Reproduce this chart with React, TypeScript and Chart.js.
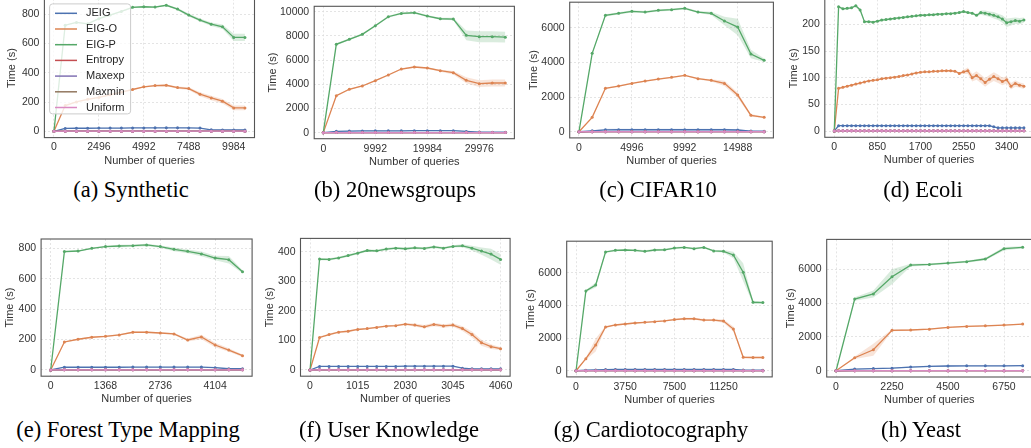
import React, { useEffect, useRef } from "react";
import { Chart, registerables } from "chart.js";
Chart.register(...registerables);

const SERIES_NAMES = ["JEIG", "EIG-O", "EIG-P", "Entropy", "Maxexp", "Maxmin", "Uniform"];
const SERIES_COLORS = ["#4C72B0", "#DD8452", "#55A868", "#C44E52", "#8172B3", "#937860", "#DA8BC3"];
const X_TITLE = "Number of queries";
const Y_TITLE = "Time (s)";
const CAPTIONS = [
  "(a) Synthetic", "(b) 20newsgroups", "(c) CIFAR10", "(d) Ecoli",
  "(e) Forest Type Mapping", "(f) User Knowledge", "(g) Cardiotocography", "(h) Yeast",
];

// (a) Synthetic
const aX = [0, 624, 1248, 1872, 2496, 3120, 3744, 4368, 4992, 5616, 6240, 6864, 7488, 8112, 8736, 9360, 9984, 10608];
const aJEIG = [0, 20, 21, 21, 22, 22, 22, 23, 23, 24, 24, 24, 23, 22, 10, 9, 9, 9];
const aJEIGsd = [0, 2, 2, 2, 2, 2, 2, 2, 2, 2, 2, 2, 2, 3, 3, 3, 3, 3];
const aEIGO = [0, 176, 201, 219, 232, 250, 268, 286, 304, 313, 315, 299, 292, 254, 228, 206, 160, 160];
const aEIGOsd = [0, 5, 5, 5, 5, 5, 5, 5, 5, 6, 6, 8, 10, 14, 15, 15, 16, 16];
const aEIGP = [0, 726, 745, 735, 770, 795, 820, 848, 852, 850, 862, 836, 795, 761, 733, 715, 642, 642];
const aEIGPsd = [0, 5, 5, 5, 5, 5, 5, 5, 5, 5, 5, 8, 10, 10, 12, 15, 25, 25];
const aLow = [0, 1, 1, 1, 1, 1, 1, 1, 1, 1, 1, 1, 1, 1, 1, 1, 1, 1];

// (b) 20newsgroups
const bX = [0, 2498, 4996, 7494, 9992, 12490, 14988, 17486, 19984, 22482, 24980, 27478, 29976, 32474, 34972];
const bJEIG = [0, 110, 130, 140, 150, 150, 150, 160, 160, 160, 160, 100, 50, 40, 40];
const bJEIGsd = [0, 30, 40, 50, 50, 50, 50, 50, 50, 50, 50, 40, 20, 20, 20];
const bEIGO = [0, 3058, 3587, 3860, 4298, 4769, 5264, 5430, 5347, 5124, 4959, 4331, 4050, 4107, 4107];
const bEIGOsd = [0, 60, 60, 60, 60, 60, 60, 60, 60, 80, 150, 250, 280, 280, 280];
const bEIGP = [0, 7306, 7719, 8132, 8843, 9587, 9862, 9917, 9645, 9421, 9394, 8050, 7934, 7934, 7900];
const bEIGPsd = [0, 80, 80, 80, 80, 80, 80, 80, 80, 80, 100, 400, 450, 450, 450];
const bLow = [0, 5, 5, 5, 5, 5, 5, 5, 5, 5, 5, 5, 5, 5, 5];

// (c) CIFAR10
const cX = [0, 1249, 2498, 3747, 4996, 6245, 7494, 8743, 9992, 11241, 12490, 13739, 14988, 16237, 17486];
const cJEIG = [0, 50, 110, 115, 115, 115, 115, 115, 115, 115, 115, 115, 100, 40, 30];
const cJEIGsd = [0, 30, 60, 60, 60, 60, 60, 60, 60, 60, 60, 60, 50, 20, 10];
const cEIGO = [0, 831, 2504, 2637, 2790, 2925, 3041, 3138, 3254, 3058, 2965, 2790, 2117, 946, 831];
const cEIGOsd = [0, 40, 40, 40, 40, 40, 40, 40, 40, 40, 60, 150, 150, 80, 40];
const cEIGP = [0, 4523, 6715, 6830, 6945, 6907, 7003, 7041, 7118, 6907, 6830, 6388, 6041, 4484, 4119];
const cEIGPsd = [0, 60, 60, 60, 60, 60, 60, 60, 60, 60, 100, 250, 480, 250, 100];
const cLow = [0, 5, 5, 5, 5, 5, 5, 5, 5, 5, 5, 5, 5, 5, 5];

// (d) Ecoli
const dX = [0, 85, 170, 255, 340, 425, 510, 595, 680, 765, 850, 935, 1020, 1105, 1190, 1275, 1360, 1445, 1530, 1615, 1700, 1785, 1870, 1955, 2040, 2125, 2210, 2295, 2380, 2465, 2550, 2635, 2720, 2805, 2890, 2975, 3060, 3145, 3230, 3315, 3400, 3485, 3570, 3655, 3740];
const dJEIG = [0, 10, 10, 10, 10, 10, 10, 10, 10, 10, 10, 10, 10, 10, 10, 10, 10, 10, 10, 10, 10, 10, 10, 10, 10, 10, 10, 10, 10, 10, 10, 10, 10, 10, 10, 10, 10, 8, 6, 6, 6, 6, 6, 6, 6];
const dJEIGsd = [0, 0.5, 0.5, 0.5, 0.5, 0.5, 0.5, 0.5, 0.5, 0.5, 0.5, 0.5, 0.5, 0.5, 0.5, 0.5, 0.5, 0.5, 0.5, 0.5, 0.5, 0.5, 0.5, 0.5, 0.5, 0.5, 0.5, 0.5, 0.5, 0.5, 0.5, 0.5, 0.5, 0.5, 0.5, 0.5, 0.5, 0.5, 0.5, 0.5, 0.5, 0.5, 0.5, 0.5, 0.5];
const dEIGO = [0, 80, 82, 84, 86, 88, 90, 92, 94, 95, 96, 98, 99, 100, 101, 102, 104, 105, 107, 109, 110, 111, 111, 112, 112, 113, 113, 113, 112, 108, 111, 113, 100, 104, 98, 91, 97, 102, 98, 93, 96, 84, 89, 86, 84];
const dEIGOsd = [0, 1.5, 1.5, 1.5, 1.5, 1.5, 1.5, 1.5, 1.5, 1.5, 1.5, 1.5, 1.5, 1.5, 1.5, 1.5, 1.5, 1.5, 1.5, 1.5, 1.5, 1.5, 1.5, 1.5, 1.5, 1.5, 1.5, 1.5, 1.5, 1.5, 4, 6, 7, 8, 8, 8, 8, 8, 8, 7, 7, 6, 6, 5, 5];
const dEIGP = [0, 233, 229, 230, 231, 235, 227, 205, 205, 204, 206, 208, 209, 210, 211, 212, 213, 214, 215, 216, 217, 217, 218, 218, 219, 219, 220, 220, 221, 222, 224, 222, 221, 217, 222, 221, 219, 217, 214, 210, 203, 205, 207, 206, 208];
const dEIGPsd = [0, 2, 2, 2, 2, 2, 2, 2, 2, 2, 2, 2, 2, 2, 2, 2, 2, 2, 2, 2, 2, 2, 2, 2, 2, 2, 2, 2, 2, 2, 2, 2, 2, 2, 4, 5, 5, 6, 6, 7, 8, 7, 6, 6, 5];
const dLow = [0, 0.3, 0.3, 0.3, 0.3, 0.3, 0.3, 0.3, 0.3, 0.3, 0.3, 0.3, 0.3, 0.3, 0.3, 0.3, 0.3, 0.3, 0.3, 0.3, 0.3, 0.3, 0.3, 0.3, 0.3, 0.3, 0.3, 0.3, 0.3, 0.3, 0.3, 0.3, 0.3, 0.3, 0.3, 0.3, 0.3, 0.3, 0.3, 0.3, 0.3, 0.3, 0.3, 0.3, 0.3];

// (e) Forest Type Mapping
const eX = [0, 342, 684, 1026, 1368, 1710, 2052, 2394, 2736, 3078, 3420, 3762, 4104, 4446, 4788];
const eJEIG = [0, 18, 18, 18, 18, 18, 19, 19, 19, 19, 19, 19, 15, 8, 8];
const eJEIGsd = [0, 2, 2, 2, 2, 2, 2, 2, 2, 2, 2, 2, 3, 3, 3];
const eEIGO = [0, 184, 202, 215, 221, 230, 248, 248, 243, 237, 197, 217, 164, 131, 94];
const eEIGOsd = [0, 5, 5, 5, 5, 5, 5, 5, 5, 6, 10, 15, 15, 12, 8];
const eEIGP = [0, 778, 782, 800, 811, 815, 817, 822, 811, 793, 780, 763, 736, 725, 646];
const eEIGPsd = [0, 5, 5, 5, 5, 8, 8, 8, 8, 12, 12, 15, 15, 25, 10];
const eLow = [0, 1, 1, 1, 1, 1, 1, 1, 1, 1, 1, 1, 1, 1, 1];

// (f) User Knowledge
const fX = [0, 203, 406, 609, 812, 1015, 1218, 1421, 1624, 1827, 2030, 2233, 2436, 2639, 2842, 3045, 3248, 3451, 3654, 3857, 4060];
const fJEIG = [0, 12, 12, 12, 12, 12, 12, 12, 12, 12, 13, 13, 13, 13, 13, 13, 6, 4, 4, 4, 4];
const fJEIGsd = [0, 1, 1, 1, 1, 1, 1, 1, 1, 1, 1, 1, 1, 1, 1, 1, 1, 1, 1, 1, 1];
const fEIGO = [0, 110, 120, 128, 131, 137, 140, 144, 148, 150, 155, 152, 146, 154, 149, 152, 140, 120, 92, 79, 72];
const fEIGOsd = [0, 3, 3, 3, 3, 3, 3, 3, 3, 3, 4, 5, 6, 6, 6, 6, 8, 10, 10, 8, 5];
const fEIGP = [0, 375, 374, 379, 387, 395, 404, 403, 409, 412, 410, 413, 411, 416, 412, 418, 420, 412, 402, 392, 374];
const fEIGPsd = [0, 4, 4, 4, 4, 4, 4, 4, 4, 4, 4, 4, 4, 4, 4, 4, 5, 8, 12, 18, 18];
const fLow = [0, 0.5, 0.5, 0.5, 0.5, 0.5, 0.5, 0.5, 0.5, 0.5, 0.5, 0.5, 0.5, 0.5, 0.5, 0.5, 0.5, 0.5, 0.5, 0.5, 0.5];

// (g) Cardiotocography
const gX = [0, 750, 1500, 2250, 3000, 3750, 4500, 5250, 6000, 6750, 7500, 8250, 9000, 9750, 10500, 11250, 12000, 12750, 13500, 14250];
const gJEIG = [0, 30, 50, 70, 80, 80, 80, 80, 80, 80, 80, 80, 80, 80, 80, 80, 80, 40, 30, 30];
const gJEIGsd = [0, 20, 30, 30, 30, 30, 30, 30, 30, 30, 30, 30, 30, 30, 30, 30, 30, 20, 10, 10];
const gEIGO = [0, 735, 1575, 2675, 2800, 2860, 2920, 2960, 3000, 3050, 3130, 3180, 3180, 3100, 3100, 3040, 2550, 820, 810, 810];
const gEIGOsd = [0, 60, 400, 60, 40, 40, 40, 40, 40, 40, 60, 60, 60, 60, 60, 100, 150, 60, 40, 40];
const gEIGP = [0, 4880, 5250, 7270, 7370, 7390, 7370, 7310, 7390, 7400, 7510, 7550, 7470, 7550, 7330, 7310, 7085, 6025, 4190, 4170];
const gEIGPsd = [0, 60, 150, 60, 60, 60, 60, 60, 60, 60, 60, 60, 60, 60, 60, 80, 200, 550, 100, 60];
const gLow = [0, 5, 5, 5, 5, 5, 5, 5, 5, 5, 5, 5, 5, 5, 5, 5, 5, 5, 5, 5];

// (h) Yeast
const hX = [0, 750, 1500, 2250, 3000, 3750, 4500, 5250, 6000, 6750, 7500];
const hJEIG = [0, 100, 130, 150, 220, 260, 280, 290, 290, 290, 300];
const hJEIGsd = [0, 20, 30, 30, 40, 40, 40, 40, 40, 40, 40];
const hEIGO = [0, 770, 1240, 2390, 2410, 2460, 2560, 2620, 2660, 2700, 2760];
const hEIGOsd = [0, 80, 350, 60, 40, 40, 40, 40, 40, 40, 40];
const hEIGP = [0, 4243, 4540, 5560, 6250, 6290, 6370, 6450, 6610, 7220, 7300];
const hEIGPsd = [0, 100, 200, 450, 80, 60, 60, 60, 80, 100, 60];
const hLow = [0, 5, 5, 5, 5, 5, 5, 5, 5, 5, 5];

// Tick labels
const X_TICKS = [
  [0, 2496, 4992, 7488, 9984],
  [0, 9992, 19984, 29976],
  [0, 4996, 9992, 14988],
  [0, 850, 1700, 2550, 3400],
  [0, 1368, 2736, 4104],
  [0, 1015, 2030, 3045, 4060],
  [0, 3750, 7500, 11250],
  [0, 2250, 4500, 6750],
];
const Y_TICKS = [
  [0, 200, 400, 600, 800],
  [0, 2000, 4000, 6000, 8000, 10000],
  [0, 2000, 4000, 6000],
  [0, 50, 100, 150, 200],
  [0, 200, 400, 600, 800],
  [0, 100, 200, 300, 400],
  [0, 2000, 4000, 6000],
  [0, 2000, 4000, 6000],
];

// Axis ranges
const X_RANGES = [[-530, 11138], [-1749, 36721], [-874, 18360], [-187, 3927], [-239.4, 5027.4], [-203, 4263], [-712.5, 14962.5], [-375, 7875]];
const Y_RANGES = [[-43, 907], [-500, 10450], [-356, 7474], [-11.75, 246.75], [-41, 861], [-21, 445], [-378, 7928], [-370, 7770]];

// Layout (page pixels): plot frame l, t, r, b; y-title offset; caption centre
const FRAMES = [
  [44.4, -1.3, 254.5, 137.6], [314.2, 6.3, 514.4, 138.7], [569.7, 2.2, 773.4, 137.9], [824.8, -0.6, 1033.4, 137.3],
  [41.1, 239, 252.1, 376.2], [300.5, 238.4, 510.1, 376.2], [566.7, 241.2, 772.2, 376.9], [826.7, 239.4, 1032, 377],
];
const TITLE_OFFS = [32, 41, 36, 31, 31, 31, 36, 36];
const CAPTION_POS = [[131, 190], [395, 190], [658, 190], [923, 190], [128, 430], [389, 430], [651, 430], [921, 430]];

const PANEL_DATA = [
  [aX, aJEIG, aJEIGsd, aEIGO, aEIGOsd, aEIGP, aEIGPsd, aLow],
  [bX, bJEIG, bJEIGsd, bEIGO, bEIGOsd, bEIGP, bEIGPsd, bLow],
  [cX, cJEIG, cJEIGsd, cEIGO, cEIGOsd, cEIGP, cEIGPsd, cLow],
  [dX, dJEIG, dJEIGsd, dEIGO, dEIGOsd, dEIGP, dEIGPsd, dLow],
  [eX, eJEIG, eJEIGsd, eEIGO, eEIGOsd, eEIGP, eEIGPsd, eLow],
  [fX, fJEIG, fJEIGsd, fEIGO, fEIGOsd, fEIGP, fEIGPsd, fLow],
  [gX, gJEIG, gJEIGsd, gEIGO, gEIGOsd, gEIGP, gEIGPsd, gLow],
  [hX, hJEIG, hJEIGsd, hEIGO, hEIGOsd, hEIGP, hEIGPsd, hLow],
];

const SANS = '"Liberation Sans", Arial, sans-serif';
const TICK_COLOR = "#333333";

function rgba(hex: string, a: number) {
  const n = parseInt(hex.slice(1), 16);
  return `rgba(${(n >> 16) & 255},${(n >> 8) & 255},${n & 255},${a})`;
}

function buildDatasets(idx: number) {
  const [xs, jeig, jeigSd, eigo, eigoSd, eigp, eigpSd, low] = PANEL_DATA[idx];
  const ds: any[] = [];
  const bands: [number[], number[], number][] = [[jeig, jeigSd, 0], [eigo, eigoSd, 1], [eigp, eigpSd, 2]];
  bands.forEach(([m, sd, k]) => {
    const hiIdx = ds.length;
    ds.push({
      data: m.map((v, i) => ({ x: xs[i], y: v + sd[i] })),
      borderWidth: 0, borderColor: "rgba(0,0,0,0)", backgroundColor: "rgba(0,0,0,0)",
      pointRadius: 0, fill: false, order: 300 + k,
    });
    ds.push({
      data: m.map((v, i) => ({ x: xs[i], y: v - sd[i] })),
      borderWidth: 0, borderColor: "rgba(0,0,0,0)", backgroundColor: rgba(SERIES_COLORS[k], 0.22),
      pointRadius: 0, fill: hiIdx, order: 300 + k,
    });
  });
  const lines = [jeig, eigo, eigp, low, low, low, low];
  lines.forEach((arr, k) => {
    ds.push({
      label: SERIES_NAMES[k],
      data: arr.map((v, i) => ({ x: xs[i], y: v })),
      borderColor: SERIES_COLORS[k],
      backgroundColor: SERIES_COLORS[k],
      borderWidth: 1.3,
      pointRadius: 1.5,
      pointBorderWidth: 0,
      pointHoverRadius: 0,
      tension: 0,
      fill: false,
      order: 100 - k,
    });
  });
  return ds;
}

const frameLegendPlugin = {
  id: "frameLegend",
  afterDraw(chart: any, _args: any, opts: any) {
    const { ctx, chartArea } = chart;
    const { left, top, right, bottom } = chartArea;
    ctx.save();
    ctx.strokeStyle = "#555555";
    ctx.lineWidth = 1.1;
    ctx.strokeRect(left, top, right - left, bottom - top);
    if (opts && opts.legend) {
      const bx = left + 5.2, by = top + 5.2, bw = 81, bh = 110;
      ctx.beginPath();
      if (ctx.roundRect) ctx.roundRect(bx, by, bw, bh, 3);
      else ctx.rect(bx, by, bw, bh);
      ctx.fillStyle = "rgba(255,255,255,0.8)";
      ctx.fill();
      ctx.strokeStyle = "#cccccc";
      ctx.lineWidth = 1;
      ctx.stroke();
      ctx.font = `11px ${SANS}`;
      ctx.textBaseline = "middle";
      ctx.textAlign = "left";
      SERIES_NAMES.forEach((name, k) => {
        const y = by + 9.4 + k * 15.7;
        ctx.strokeStyle = SERIES_COLORS[k];
        ctx.lineWidth = 1.5;
        ctx.beginPath();
        ctx.moveTo(bx + 5.4, y);
        ctx.lineTo(bx + 27.4, y);
        ctx.stroke();
        ctx.fillStyle = "#262626";
        ctx.fillText(name, bx + 36.4, y);
      });
    }
    ctx.restore();
  },
};

function Panel({ idx }: { idx: number }) {
  const ref = useRef<HTMLCanvasElement>(null);
  const [l, t, r, b] = FRAMES[idx];
  const WY = TITLE_OFFS[idx] + 8;
  const CL = Math.floor(l - WY);
  const CT = Math.floor(t - 14);
  const padL = l - WY - CL;
  const padT = t - CT;
  const CW = Math.ceil(r - CL + 14);
  const padR = CW - (r - CL);
  const CH = Math.ceil(b - CT + 34);
  const HX = CH - (b - CT);
  const titleBottomPad = HX - 23 - 5.5;

  useEffect(() => {
    if (!ref.current) return;
    const gridCommon = { color: "#dedede", lineWidth: 0.8, drawTicks: false, tickLength: 0 };
    const chart = new Chart(ref.current, {
      type: "line",
      data: { datasets: buildDatasets(idx) },
      plugins: [frameLegendPlugin],
      options: {
        animation: false,
        responsive: false,
        devicePixelRatio: 1,
        events: [],
        layout: { padding: { left: padL, top: padT, right: padR, bottom: 0 } },
        plugins: {
          legend: { display: false },
          tooltip: { enabled: false },
          frameLegend: { legend: idx === 0 },
        } as any,
        scales: {
          x: {
            type: "linear",
            min: X_RANGES[idx][0],
            max: X_RANGES[idx][1],
            afterBuildTicks: (s: any) => { s.ticks = X_TICKS[idx].map((v) => ({ value: v })); },
            afterFit: (s: any) => { s.height = HX; },
            ticks: {
              autoSkip: false,
              maxRotation: 0,
              minRotation: 0,
              padding: 3.7,
              color: TICK_COLOR,
              font: { family: SANS, size: 10.5 },
              callback: (v: any) => String(v),
            },
            grid: gridCommon,
            border: { display: false, dash: [2, 2] },
            title: {
              display: true,
              text: X_TITLE,
              color: TICK_COLOR,
              font: { family: SANS, size: 11, lineHeight: 1 },
              padding: { top: 0, bottom: titleBottomPad },
            },
          },
          y: {
            type: "linear",
            min: Y_RANGES[idx][0],
            max: Y_RANGES[idx][1],
            afterBuildTicks: (s: any) => { s.ticks = Y_TICKS[idx].map((v) => ({ value: v })); },
            afterFit: (s: any) => { s.width = WY; },
            ticks: {
              autoSkip: false,
              padding: 5,
              color: TICK_COLOR,
              font: { family: SANS, size: 10.5 },
              callback: (v: any) => String(v),
            },
            grid: gridCommon,
            border: { display: false, dash: [2, 2] },
            title: {
              display: true,
              text: Y_TITLE,
              color: TICK_COLOR,
              font: { family: SANS, size: 11, lineHeight: 1 },
              padding: { top: 2.5, bottom: 0 },
            },
          },
        },
      } as any,
    });
    return () => chart.destroy();
  }, [idx]);

  return (
    <canvas
      ref={ref}
      width={CW}
      height={CH}
      style={{ position: "absolute", left: CL, top: CT, width: CW, height: CH }}
    />
  );
}

export default function App() {
  return (
    <div style={{ position: "fixed", left: 0, top: 0, width: 1031, height: 448, overflow: "hidden", background: "#ffffff" }}>
      {CAPTIONS.map((_, i) => <Panel key={"p" + i} idx={i} />)}
      {CAPTIONS.map((c, i) => (
        <div
          key={"c" + i}
          style={{
            position: "absolute",
            left: CAPTION_POS[i][0],
            top: CAPTION_POS[i][1],
            transform: "translate(-50%, -50%)",
            font: '22.5px "Liberation Serif", "Times New Roman", serif',
            color: "#000000",
            whiteSpace: "nowrap",
            lineHeight: 1,
          }}
        >
          {c}
        </div>
      ))}
    </div>
  );
}
